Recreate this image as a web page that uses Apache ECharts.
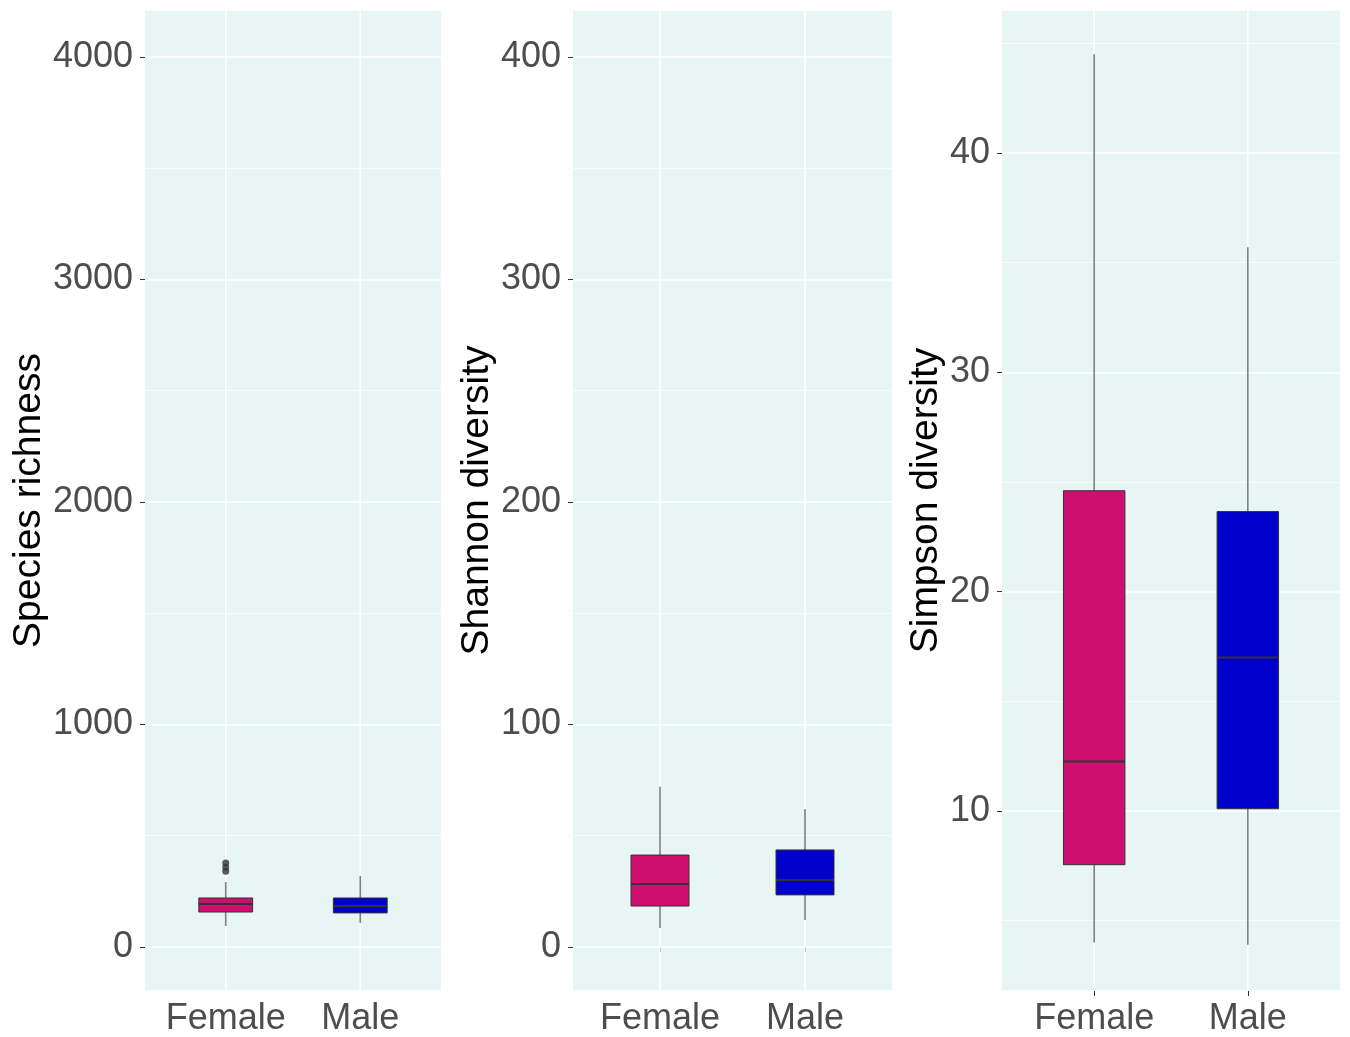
<!DOCTYPE html>
<html style="height: 100%">
<head>
	<meta charset="UTF-8">
	<title>Diversity boxplots</title>
	<script src="https://cdn.jsdelivr.net/npm/echarts@6.0.0/dist/echarts.min.js"></script>
</head>
<body style="height:100%; margin:0; background-color:#ffffff">
<div id="main" style="width:1350px;height:1037px;"></div>
<script type="text/javascript">
	// groups and box stats: [lower whisker, Q1, median, Q3, upper whisker]
	var groups = ['Female', 'Male'];
	var groupPos = [1, 2];
	var boxColors = ['#CC0F70', '#0000CC'];
	var richness = [[94, 157, 193, 220, 292], [108, 153, 184, 220, 319]];
	var richnessOutliers = [[1, 340], [1, 358], [1, 377]];
	var shannon = [[8.5, 18.4, 28.3, 41.3, 72], [12.1, 23.4, 30.1, 43.6, 62]];
	var simpson = [[4.0, 7.55, 12.25, 24.6, 44.5], [3.9, 10.1, 17.0, 23.65, 35.7]];
	var titles = ['Species richness', 'Shannon diversity', 'Simpson diversity'];

	var myChart = echarts.init(document.getElementById('main'));
	var font = 'Liberation Sans, Arial, sans-serif';

	function boxData(stats) {
		return stats.map(function (s, i) {
			return [groupPos[i]].concat(s);
		});
	}

	// ggplot-like box: grey whisker, filled box, dark median
	function renderBox(params, api) {
		var x = api.value(0);
		var idx = x - 1;
		var lo = api.coord([x, api.value(1)]);
		var q1 = api.coord([x, api.value(2)]);
		var med = api.coord([x, api.value(3)]);
		var q3 = api.coord([x, api.value(4)]);
		var hi = api.coord([x, api.value(5)]);
		var left = api.coord([x - 0.2, 0])[0];
		var right = api.coord([x + 0.2, 0])[0];
		var cs = params.coordSys;
		return {
			type: 'group',
			children: [
				{ type: 'line', shape: { x1: lo[0], y1: cs.y, x2: lo[0], y2: cs.y + cs.height },
				  style: { stroke: '#ffffff', lineWidth: 1.5 } },
				{ type: 'line', shape: { x1: lo[0], y1: lo[1], x2: hi[0], y2: hi[1] },
				  style: { stroke: '#7f7f7f', lineWidth: 1.6 } },
				{ type: 'rect', shape: { x: left, y: q3[1], width: right - left, height: q1[1] - q3[1] },
				  style: { fill: boxColors[idx], stroke: '#333333', lineWidth: 1 } },
				{ type: 'line', shape: { x1: left, y1: med[1], x2: right, y2: med[1] },
				  style: { stroke: '#333333', lineWidth: 2 } }
			]
		};
	}

	var grids = [
		{ left: 145, top: 10, width: 296, height: 981 },
		{ left: 573, top: 10, width: 319, height: 981 },
		{ left: 1002, top: 10, width: 338, height: 981 }
	];
	var yRanges = [[-198, 4211], [-19.8, 421.1], [1.79, 46.52]];
	var nameGaps = [90, 75, 54];

	var xAxes = [], yAxes = [], series = [];
	for (var i = 0; i < 3; i++) {
		grids[i].backgroundColor = '#E7F5F5';
		grids[i].show = true;
		grids[i].borderWidth = 0;
		xAxes.push({
			gridIndex: i, type: 'value', min: 0.4, max: 2.6,
			axisLine: { show: false },
			axisTick: { show: true, customValues: groupPos, length: 5, lineStyle: { color: '#333333' } },
			axisLabel: {
				customValues: groupPos, margin: 10, color: '#4d4d4d', fontSize: 36, fontFamily: font,
				formatter: function (v) { return groups[Math.round(v) - 1]; }
			},
			splitLine: { show: false }
		});
		yAxes.push({
			gridIndex: i, type: 'value', min: yRanges[i][0], max: yRanges[i][1], splitNumber: 5,
			name: titles[i], nameLocation: 'middle', nameGap: nameGaps[i], nameRotate: 90,
			nameTextStyle: { color: '#000000', fontSize: 39, fontFamily: font },
			axisLine: { show: false },
			axisTick: { show: true, length: 5, lineStyle: { color: '#333333' } },
			axisLabel: { margin: 12, color: '#4d4d4d', fontSize: 36, fontFamily: font,
				showMinLabel: false, showMaxLabel: false,
				formatter: function (v) { return String(v); } },
			splitLine: { show: true, lineStyle: { color: '#ffffff', width: 1.5 } },
			minorTick: { show: false, splitNumber: 2 },
			minorSplitLine: { show: true, lineStyle: { color: '#ffffff', width: 0.8 } }
		});
	}

	var stats = [richness, shannon, simpson];
	for (var j = 0; j < 3; j++) {
		series.push({
			type: 'custom', xAxisIndex: j, yAxisIndex: j,
			renderItem: renderBox, data: boxData(stats[j]), silent: true
		});
	}
	series.push({
		type: 'scatter', xAxisIndex: 0, yAxisIndex: 0, data: richnessOutliers,
		symbolSize: 7, itemStyle: { color: '#333333' }, silent: true
	});

	var option = {
		animation: false,
		grid: grids,
		xAxis: xAxes,
		yAxis: yAxes,
		series: series
	};
	myChart.setOption(option);
</script>
</body>
</html>
